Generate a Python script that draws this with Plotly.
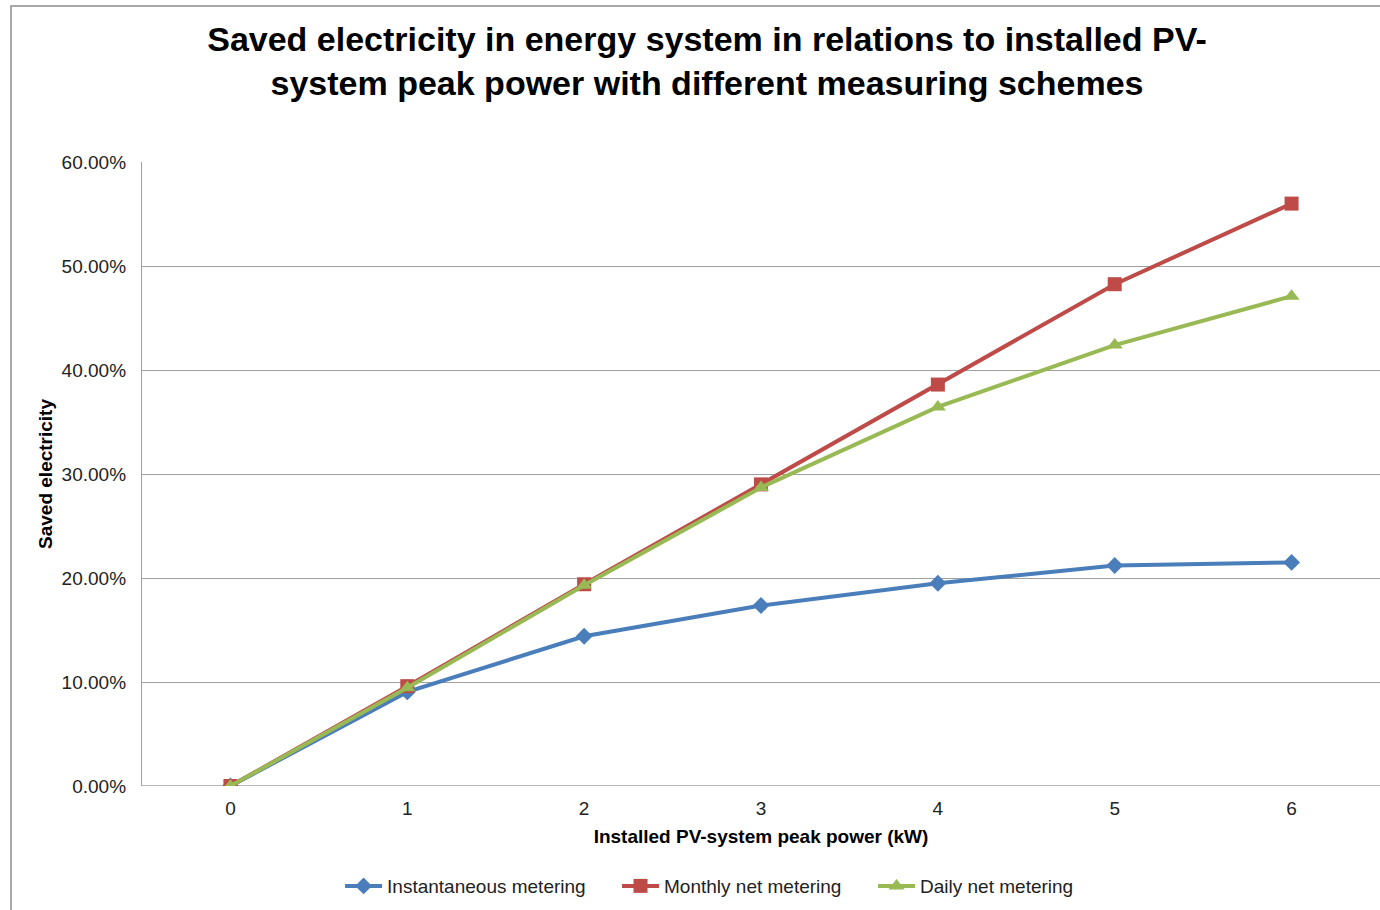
import plotly.graph_objects as go

x_kw = [0, 1, 2, 3, 4, 5, 6]
instantaneous = [0.0, 9.05, 14.4, 17.35, 19.5, 21.2, 21.5]
monthly = [0.0, 9.6, 19.4, 29.0, 38.6, 48.25, 56.0]
daily = [0.0, 9.45, 19.3, 28.7, 36.45, 42.4, 47.1]
y_ticks = [0, 10, 20, 30, 40, 50, 60]

FONT = "Liberation Sans, Arial, sans-serif"

fig = go.Figure()
series = [
    ("Instantaneous metering", instantaneous, "#4A7EBB", "diamond", 13, "legend", 0.160),
    ("Monthly net metering", monthly, "#BE4B48", "square", 14, "legend2", 0.3837),
    ("Daily net metering", daily, "#98B954", "triangle-up", 14, "legend3", 0.5905),
]
legend_defs = {}
for name, vals, col, sym, sz, leg, lx in series:
    fig.add_trace(go.Scatter(
        x=x_kw, y=vals, name=name, mode="lines+markers",
        line=dict(color=col, width=4),
        marker=dict(symbol=sym, size=sz, color=col),
        legend=leg, showlegend=True,
    ))
    legend_defs[leg] = dict(
        orientation="h", x=lx, xanchor="left", y=-0.1603, yanchor="middle",
        font=dict(family=FONT, size=19, color="#222222"),
        bgcolor="rgba(0,0,0,0)", itemwidth=37,
    )

fig.update_layout(
    width=1380, height=910,
    showlegend=True,
    paper_bgcolor="white", plot_bgcolor="white",
    margin=dict(l=142, r=0, t=162, b=124),
    font=dict(family=FONT, color="#222222", size=19),
    title=dict(
        text="Saved electricity in energy system in relations to installed PV-<br>system peak power with different measuring schemes",
        x=0.4564, xref="paper", xanchor="center", y=0.9442, yanchor="middle",
        font=dict(family=FONT, size=34, color="black", weight="bold"),
    ),
    xaxis=dict(
        range=[-0.5, 6.5], tickmode="array", tickvals=x_kw,
        ticktext=[str(v) for v in x_kw],
        showgrid=False, zeroline=False, showline=False, ticks="",
        ticklabelstandoff=9,
        title=dict(text="Installed PV-system peak power (kW)", standoff=11,
                   font=dict(family=FONT, size=19, color="black", weight="bold")),
        tickfont=dict(size=19, color="#222222"),
    ),
    yaxis=dict(
        range=[0, 60], tickmode="array", tickvals=y_ticks,
        ticktext=[f"{v:.2f}%" for v in y_ticks],
        showgrid=True, gridcolor="#a0a0a0", gridwidth=1.3,
        zeroline=False, showline=True, linecolor="#a0a0a0", linewidth=1.3,
        ticks="", ticklabelstandoff=11,
        title=dict(text="Saved electricity", standoff=3,
                   font=dict(family=FONT, size=19, color="black", weight="bold")),
        tickfont=dict(size=19, color="#222222"),
    ),
    legend=legend_defs["legend"],
    legend2=legend_defs["legend2"],
    legend3=legend_defs["legend3"],
    shapes=[
        dict(type="rect", xref="paper", yref="paper",
             x0=-0.1058, x1=1.02, y0=-0.25, y1=1.25,
             line=dict(color="#8c8c8c", width=1.5), fillcolor="rgba(0,0,0,0)",
             layer="below"),
        dict(type="line", xref="paper", yref="y", x0=0, x1=1, y0=0, y1=0,
             line=dict(color="#a0a0a0", width=1.3), layer="below"),
    ],
)

fig.write_html("out.html", config={"displayModeBar": False},
               post_script="document.body.style.margin='0px';")
